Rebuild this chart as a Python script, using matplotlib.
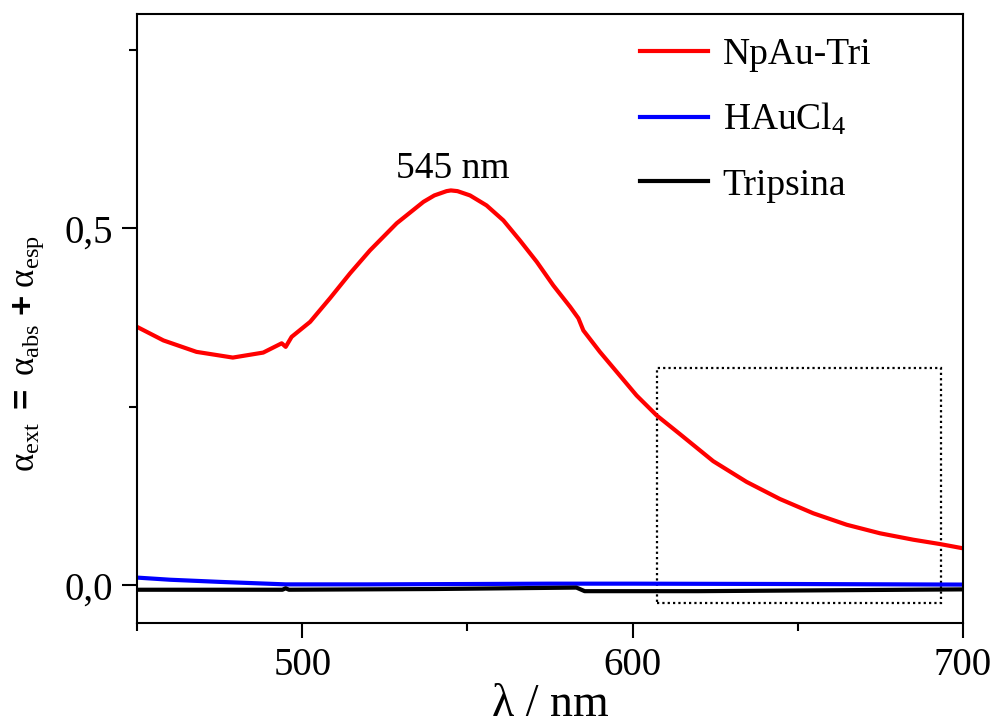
import matplotlib
matplotlib.use('Agg')
import matplotlib.pyplot as plt
from matplotlib.patches import Rectangle
from matplotlib.ticker import FixedLocator, FuncFormatter

plt.rcParams['font.family'] = 'Liberation Serif'
plt.rcParams['mathtext.fontset'] = 'custom'
plt.rcParams['mathtext.rm'] = 'Liberation Serif'
plt.rcParams['mathtext.it'] = 'Liberation Serif:italic'
plt.rcParams['mathtext.bf'] = 'Liberation Sans:bold'

# extinction spectra
wl_np = [450, 458, 468, 479, 488.2, 493.8, 495.0, 496.8, 502.4, 508.4, 514.5, 520.5,
         528.6, 536.7, 540, 543.7, 545, 547, 550.8, 555.8, 560.9, 565.9, 571.0, 576.0,
         581.1, 583.6, 585.1, 590.1, 595.2, 601.2, 607.3, 614.3, 624.4, 634.5, 644.6,
         654.7, 664.8, 674.9, 685.0, 693.0, 700]
a_np = [0.362, 0.343, 0.327, 0.319, 0.326, 0.339, 0.334, 0.348, 0.369, 0.402, 0.437, 0.469,
        0.507, 0.537, 0.546, 0.552, 0.553, 0.552, 0.546, 0.532, 0.511, 0.483, 0.453, 0.420,
        0.390, 0.374, 0.357, 0.327, 0.299, 0.266, 0.238, 0.212, 0.174, 0.145, 0.121,
        0.101, 0.085, 0.073, 0.064, 0.058, 0.052]

wl_hau = [450, 460, 475, 495, 520, 550, 575, 600, 650, 700]
a_hau = [0.011, 0.008, 0.005, 0.0015, 0.0015, 0.002, 0.0025, 0.0025, 0.002, 0.0012]

wl_tri = [450, 494, 495, 496, 540, 583, 585.5, 620, 700]
a_tri = [-0.006, -0.006, -0.004, -0.006, -0.005, -0.003, -0.008, -0.008, -0.0055]

peak_wl = 545.6
peak_label = '545 nm'

fig = plt.figure(figsize=(9.95, 7.28), dpi=100)
ax = fig.add_axes([0.1377, 0.1438, 0.8301, 0.8370])

ax.plot(wl_np, a_np, color='red', lw=3, label='NpAu-Tri')
ax.plot(wl_hau, a_hau, color='blue', lw=3, label='HAuCl$_4$')
ax.plot(wl_tri, a_tri, color='black', lw=3, label='Tripsina')

ax.text(peak_wl, 0.570, peak_label, ha='center', va='baseline', fontsize=27)

# zoom region box
ax.add_patch(Rectangle((607.3, -0.024), 86.0, 0.329, fill=False, ec='black',
                       lw=1.6, ls=(0, (1, 1.4))))

ax.set_xlim(450, 700)
ax.set_ylim(-0.053, 0.8)
ax.xaxis.set_major_locator(FixedLocator([500, 600, 700]))
ax.xaxis.set_minor_locator(FixedLocator([450, 550, 650]))
ax.yaxis.set_major_locator(FixedLocator([0, 0.5]))
ax.yaxis.set_minor_locator(FixedLocator([0.25, 0.75]))
ax.yaxis.set_major_formatter(FuncFormatter(lambda v, p: ('%.1f' % v).replace('.', ',')))

ax.tick_params(which='major', direction='out', length=11, width=1.5, labelsize=28, pad=6)
ax.tick_params(which='minor', direction='out', length=5.5, width=1.5)
for s in ax.spines.values():
    s.set_linewidth(1.5)

ax.set_xlabel('λ / nm', fontsize=33, labelpad=0)
fig.text(0.029, 0.514,
         r'$\mathrm{α}_{\mathrm{ext}}\ \mathbf{=}\ \mathrm{α}_{\mathrm{abs}}\ \mathbf{+}\ \mathrm{α}_{\mathrm{esp}}$',
         rotation=90, ha='center', va='center', fontsize=25)

ax.legend(loc='upper left', bbox_to_anchor=(0.609, 0.962), frameon=False, fontsize=27,
          handlelength=1.8, handletextpad=0.4, labelspacing=0.8, borderpad=0, borderaxespad=0)

fig.savefig('out.png', dpi=100)
